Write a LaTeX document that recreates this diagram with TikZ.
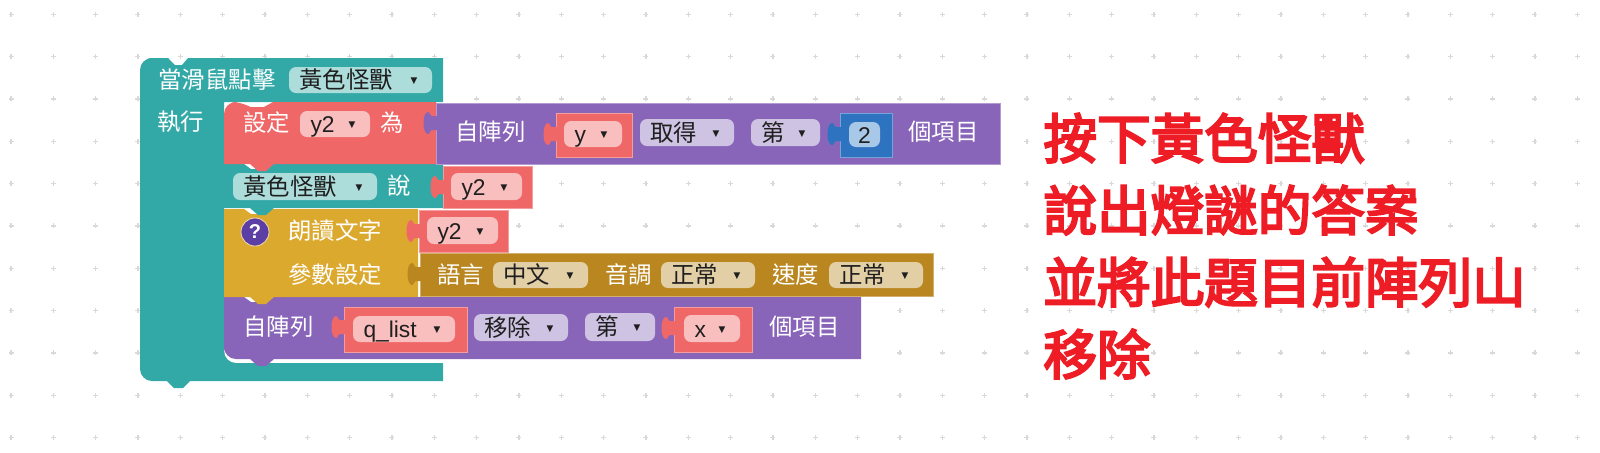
\documentclass[tikz,border=0pt]{standalone}
\usepackage{fontspec}
\setmainfont{Noto Sans CJK TC}
\newfontfamily\latinfont{Liberation Sans}
\newfontfamily\arrowfont{DejaVu Sans}
\newfontfamily\notefont[FakeBold=4]{Noto Sans CJK TC}
\definecolor{tealblock}{HTML}{33A9A7}
\definecolor{tealfield}{HTML}{ADDDDB}
\definecolor{redblock}{HTML}{F06767}
\definecolor{redfield}{HTML}{F9BEBE}
\definecolor{purpleblock}{HTML}{8865B9}
\definecolor{purplefield}{HTML}{CFC3E3}
\definecolor{yellowblock}{HTML}{DCA92F}
\definecolor{brownblock}{HTML}{B9861F}
\definecolor{brownfield}{HTML}{E3CFA5}
\definecolor{blueblock}{HTML}{2E73C0}
\definecolor{bluefield}{HTML}{A8C8E8}
\definecolor{helpfill}{HTML}{5B3FA5}
\definecolor{notered}{HTML}{EE1C25}
\newcommand{\droparrow}{\raisebox{2.6pt}{\arrowfont\fontsize{4.4}{5}\selectfont ▼}}
\newcommand{\lat}[1]{{\latinfont\fontsize{11.4}{12}\selectfont #1}}
% puzzle tab, on the left of x, around y
\newcommand{\puzzletab}[3]{
  \fill[#3] (#1+1,#2-7) -- (#1-4,#2-7) .. controls (#1-6,#2-7) and (#1-6,#2-11) .. (#1-8,#2-11)
    .. controls (#1-14,#2-11) and (#1-14,#2+11) .. (#1-8,#2+11)
    .. controls (#1-6,#2+11) and (#1-6,#2+7) .. (#1-4,#2+7) -- (#1+1,#2+7) -- cycle;
}
% name, colour, x1, x2, y1, y2, tab y
\newcommand{\inputblock}[7]{
  \draw[fill=#2,draw=#2!65!white,line width=0.4pt] (#3,#5) rectangle (#4,#6);
  \puzzletab{#3}{#7}{#2}
  \coordinate (#1) at (#3,#5);
}
% colour, x1, x2, y1, y2, radius top left, radius bottom left
\newcommand{\stackblock}[7]{
  \fill[#1] (#2,#4+20) {[rounded corners=#6] -- (#2,#4) -- (#2+20,#4)}
    -- (#2+27,#4+5) -- (#2+40,#4+5) -- (#2+49,#4) -- (#3,#4) -- (#3,#5)
    -- (#2+50,#5) -- (#2+42,#5+7) -- (#2+34,#5+7) -- (#2+26,#5)
    {[rounded corners=#7] -- (#2,#5) -- (#2,#5-20)} -- cycle;
}
% name, colour, x1, x2, y1, y2, text
\newcommand{\fieldbox}[7]{
  \pgfmathsetmacro\fieldw{(#4-#3)*0.5}
  \pgfmathsetmacro\fieldh{(#6-#5)*0.5}
  \pgfmathsetmacro\fieldt{\fieldw-10.5}
  \node[fieldnode,fill=#2,minimum width=\fieldw pt,minimum height=\fieldh pt,text width=\fieldt pt]
    (#1) at ({(#3+#4)/2},{(#5+#6)/2}) {#7\hfill\droparrow\hspace*{2pt}};
}
\tikzset{
  blocktext/.style={text=white,inner sep=0pt,anchor=west,font=\fontsize{11.7}{12}\selectfont,
    text height=9.6pt,text depth=0.8pt},
  fieldnode/.style={rounded corners=3.5pt,inner xsep=0pt,inner ysep=0pt,text=black!88,
    font=\fontsize{11.7}{12}\selectfont,text height=9.6pt,text depth=0.8pt},
  helpnode/.style={shape=circle,fill=helpfill,draw=yellowblock!40!white,line width=0.4pt,text=white,
    inner sep=0pt,minimum size=14pt,font=\latinfont\bfseries\fontsize{10}{10}\selectfont},
  gridplus/.style={draw=black!15,line width=0.6pt},
  notetext/.style={text=notered,anchor=west,inner sep=0pt,align=left,
    font=\notefont\fontsize{26.8}{36}\selectfont}
}
\begin{document}
\begin{tikzpicture}[x=0.5pt,y=-0.5pt]
\useasboundingbox (0,0) rectangle (1600,452);
%% background dots
\foreach \i in {0,...,37}
  \foreach \j in {0,...,10}
  {
    \path[gridplus] ({11+42.33*\i-2.5},{14.3+42.33*\j}) -- ++(5,0)
      ({11+42.33*\i},{14.3+42.33*\j-2.5}) -- ++(0,5);
  };
%% event block
\fill[tealblock] (140,80) {[rounded corners=6pt] -- (140,58) -- (160,58)}
  -- (168,58) -- (175,65) -- (182,65) -- (188,58) -- (443,58) -- (443,102) -- (224,102)
  {[rounded corners=6pt] -- (224,363) -- (300,363)} -- (443,363) -- (443,381)
  -- (190,381) -- (183,388) -- (174,388) -- (167,381)
  {[rounded corners=6pt] -- (140,381) -- (140,340)} -- cycle;
%% stacked blocks, lowest first
\stackblock{purpleblock}{224}{861}{297}{359}{0.1pt}{6pt}
\stackblock{yellowblock}{224}{418}{209}{297}{0.1pt}{0.1pt}
\stackblock{tealblock}{224}{443}{164}{208}{0.1pt}{0.1pt}
\stackblock{redblock}{224}{436}{102}{164}{6pt}{0.1pt}
%% value blocks
\inputblock{listget}{purpleblock}{436}{1000}{103}{164}{123}
\inputblock{listvar}{redblock}{556}{632}{113}{157}{134}
\inputblock{indexnum}{blueblock}{840}{892}{113}{157}{134}
\inputblock{sayvar}{redblock}{443}{532}{166}{208}{187}
\inputblock{speakvar}{redblock}{419}{508}{210}{252}{231}
\inputblock{speakopts}{brownblock}{420}{933}{253}{296}{274}
\inputblock{removelist}{redblock}{344}{467}{307}{352}{327}
\inputblock{removeidx}{redblock}{674}{752}{307}{352}{328}
%% labels
\node[blocktext] (whenclick) at (158,80) {當滑鼠點擊};
\node[blocktext] (doing) at (157,122) {執行};
\node[blocktext] (setlabel) at (243,123) {設定};
\node[blocktext] (aslabel) at (380,123) {為};
\node[blocktext] (fromlist) at (455,132) {自陣列};
\node[blocktext] (itemlabel) at (908,132) {個項目};
\node[blocktext] (saylabel) at (387,186) {說};
\node[blocktext] (speaklabel) at (288,231) {朗讀文字};
\node[blocktext] (optlabel) at (288,275) {參數設定};
\node[blocktext] (langlabel) at (437,275) {語言};
\node[blocktext] (pitchlabel) at (605,275) {音調};
\node[blocktext] (speedlabel) at (772,275) {速度};
\node[blocktext] (fromlistb) at (243,327) {自陣列};
\node[blocktext] (itemlabelb) at (769,327) {個項目};
%% fields
\fieldbox{monster}{tealfield}{289}{432}{67}{93}{黃色怪獸}
\fieldbox{vartwo}{redfield}{300}{370}{111}{137}{\lat{y2}}
\fieldbox{vary}{redfield}{564}{622}{121}{147}{\lat{y}}
\fieldbox{getmode}{purplefield}{640}{734}{119}{146}{取得}
\fieldbox{whichnum}{purplefield}{751}{820}{119}{146}{第}
\node[fieldnode,fill=bluefield,minimum width=15.5pt,minimum height=12.5pt] (numtwo) at (864.5,134.5) {\lat{2}};
\fieldbox{monsterb}{tealfield}{233}{377}{173}{200}{黃色怪獸}
\fieldbox{vartwob}{redfield}{451}{522}{173}{200}{\lat{y2}}
\fieldbox{vartwoc}{redfield}{427}{498}{217}{244}{\lat{y2}}
\fieldbox{langfield}{brownfield}{493}{588}{262}{288}{中文}
\fieldbox{pitchfield}{brownfield}{661}{755}{262}{288}{正常}
\fieldbox{speedfield}{brownfield}{829}{923}{262}{288}{正常}
\fieldbox{qlist}{redfield}{353}{455}{316}{342}{\lat{q\_list}}
\fieldbox{removemode}{purplefield}{474}{568}{314}{341}{移除}
\fieldbox{whichb}{purplefield}{585}{655}{313}{341}{第}
\fieldbox{varx}{redfield}{684}{740}{315}{342}{\lat{x}}
%% help icon
\node[helpnode] (helpicon) at (255,232) {?};
%% note
\node[notetext] (note) at (1043,246) {按下黃色怪獸\\說出燈謎的答案\\並將此題目前陣列山\\移除};
\end{tikzpicture}
\end{document}
